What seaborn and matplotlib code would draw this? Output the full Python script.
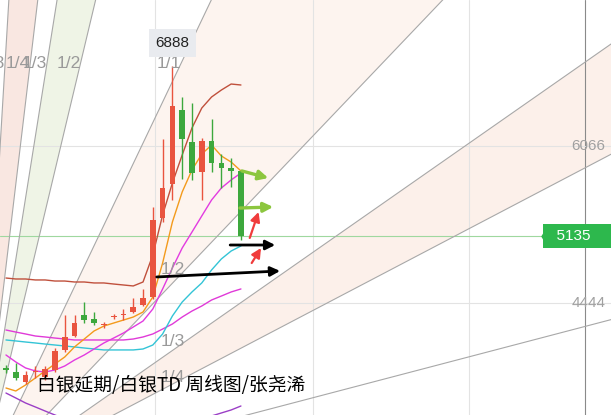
import numpy as np
import pandas as pd
import matplotlib
matplotlib.use("Agg")
import matplotlib.pyplot as plt
import seaborn as sns

# --- velas semanales (precio) ---
opens  = [3773, 3731, 3628, 3731, 3680, 3752, 3959, 4103, 4320, 4279, 4217, 4299, 4320,
          4351, 4423, 4506, 5322, 5673, 6438, 6107, 5797, 6117, 5890, 5839, 5808]
closes = [3752, 3669, 3700, 3742, 3762, 3948, 4093, 4237, 4268, 4237, 4227, 4310, 4330,
          4403, 4496, 5301, 5632, 6479, 6138, 5787, 6117, 5890, 5839, 5808, 5135]
highs  = [3804, 3824, 3742, 3793, 3793, 3979, 4320, 4320, 4454, 4351, 4248, 4330, 4382,
          4496, 4589, 5436, 6138, 6888, 6572, 6510, 6148, 6345, 5983, 5942, 5808]
lows   = [3721, 3649, 3607, 3669, 3649, 3731, 3938, 4093, 4237, 4217, 4186, 4279, 4268,
          4341, 4413, 4485, 5281, 5508, 5725, 5715, 5508, 5797, 5632, 5642, 5095]

# --- medias moviles ---
ma_naranja = [3566, 3535, 3597, 3669, 3742, 3814, 3886, 3990, 4072, 4155, 4206, 4237, 4268,
              4299, 4351, 4506, 4857, 5281, 5591, 5818, 5983, 6076, 5963, 5900, 5808]
ma_rojo    = [4702, 4692, 4692, 4682, 4682, 4671, 4671, 4661, 4661, 4651, 4651, 4640, 4630,
              4620, 4661, 4940, 5353, 5684, 5973, 6252, 6458, 6572, 6644, 6706, 6696]
ma_magenta = [3907, 3835, 3773, 3742, 3731, 3752, 3793, 3855, 3907, 3969, 4031, 4082, 4134,
              4196, 4258, 4382, 4589, 4806, 5012, 5177, 5343, 5508, 5632, 5715, 5787]
ma_magenta2 = [4165, 4144, 4124, 4103, 4093, 4082, 4072, 4062, 4062, 4062, 4062, 4062, 4062,
               4072, 4093, 4124, 4175, 4227, 4299, 4361, 4413, 4475, 4516, 4558, 4589]
ma_cian    = [4062, 4052, 4041, 4031, 4020, 4010, 4000, 3990, 3979, 3969, 3959, 3959, 3959,
              3959, 3969, 4010, 4124, 4310, 4454, 4558, 4651, 4785, 4899, 4981, 5033]
ma_morado  = [3514, 3463, 3411, 3370, 3328, 3287, 3246, 3215, 3184, 3163, 3142, 3132, 3122,
              3122, 3122, 3132, 3142, 3163, 3184, 3215, 3246, 3277, 3308, 3339, 3380]

# --- abanico de Gann ---
fan_origen = (-2.66, 2564)
fan_unidad = 212
fan_ratios = [8, 4, 3, 2, 1, 1/2, 1/3, 1/4, 1/8]
fan_etiquetas = ['1/8', '1/4', '1/3', '1/2', '1/1', '1/2', '1/3', '1/4', '1/8']
# bandas rellenas (indice linea superior, indice linea inferior, color)
fan_bandas = [(0, 1, '#f9e7e1'), (2, 3, '#eff4e6'), (4, 5, '#fdf4ef'), (6, 7, '#fcf0ea')]

# --- niveles y flechas ---
niveles_gris = [6066, 4444]
precio_actual = 5135
maximo = 6888
grid_x = [15.22, 31.36, 47.29]
eje_derecho = 59.14
x_etiqueta_precio = 55.4
flechas = [  # (x0, y0, x1, y1, color, grosor)
    (24.1, 5808, 26.8, 5735, '#8cc63f', 2.4),
    (23.9, 5425, 27.3, 5436, '#8cc63f', 2.4),
    (24.9, 5116, 25.8, 5384, '#f03c3c', 1.6),
    (25.1, 4857, 26.05, 5012, '#f03c3c', 1.6),
    (22.9, 5043, 27.5, 5043, '#000000', 2.0),
    (15.4, 4713, 28.0, 4775, '#000000', 2.0),
]
titulo = '白银延期/白银TD 周线图/张尧浠'

sns.set_style('white')
plt.rcParams['font.family'] = ['Noto Sans CJK SC', 'DejaVu Sans']
num_font = ['Liberation Sans', 'DejaVu Sans']

fig = plt.figure(figsize=(6.11, 4.15), dpi=100)
ax = fig.add_axes([0, 0, 1, 1])
xmin, xmax = -0.61, 61.8
ymin, ymax = 3287, 7574

# abanico
ox, oy = fan_origen
xs = np.linspace(ox, xmax + 1, 200)
lineas = [oy + fan_unidad * r * (xs - ox) for r in fan_ratios]
for a, b, c in fan_bandas:
    ax.fill_between(xs, lineas[a], lineas[b], color=c, lw=0, zorder=0)
for r, ys in zip(fan_ratios, lineas):
    ax.plot(xs, ys, color='#a8a8a8', lw=0.8, zorder=1)

y_etq = 6923
for r, etq in zip(fan_ratios, fan_etiquetas):
    if r >= 1:
        xe = ox + (y_etq - oy) / (fan_unidad * r)
        ye = y_etq
    else:
        xe = 18.3
        ye = oy + fan_unidad * r * (xe - ox)
    if ye < ymin + 60:
        continue  # fuera de la vista
    ax.text(xe, ye, etq, ha='right', va='center', fontsize=12.5, color='#9a9a9a',
            family=num_font, zorder=5)

# rejilla
for gx in grid_x:
    ax.axvline(gx, color='#e3e3e3', lw=0.8, zorder=0.5)
ax.axvline(eje_derecho, color='#8a8a8a', lw=0.8, zorder=0.5)
for nv in niveles_gris:
    ax.axhline(nv, color='#e3e3e3', lw=0.8, zorder=0.5)
    ax.text(61.2, nv, str(nv), ha='right', va='center', fontsize=11, color='#a0a0a0',
            family=num_font, zorder=5)
ax.axhline(precio_actual, color='#9fd89f', lw=0.8, zorder=0.6)

# medias moviles
idx = np.arange(len(closes))
df = pd.DataFrame({'i': idx, 'naranja': ma_naranja, 'rojo': ma_rojo, 'magenta': ma_magenta,
                   'magenta2': ma_magenta2, 'cian': ma_cian, 'morado': ma_morado})
colores_ma = {'morado': '#9b3fc6', 'magenta2': '#e03ad8', 'cian': '#33c4d6',
              'magenta': '#e23be0', 'rojo': '#c0503c', 'naranja': '#f39a1c'}
for col, c in colores_ma.items():
    sns.lineplot(data=df, x='i', y=col, color=c, lw=1.0, ax=ax, zorder=2)

# velas (rojo sube, verde baja)
o = np.array(opens); c = np.array(closes)
colores = np.where(c >= o, '#e9543f', '#3da83d')
ax.vlines(idx, lows, highs, colors=colores, lw=1.0, zorder=3)
alto = np.maximum(np.abs(c - o), 12)
ax.bar(idx, alto, bottom=np.minimum(o, c), width=0.58, color=colores, lw=0, zorder=3)

# flechas
for x0, y0, x1, y1, col, lw in flechas:
    ax.annotate('', xy=(x1, y1), xytext=(x0, y0),
                arrowprops=dict(arrowstyle='-|>', color=col, lw=lw, mutation_scale=14,
                                shrinkA=0, shrinkB=0), zorder=4)

# etiquetas de precio
ax.text(17, 7130, str(maximo), ha='center', va='center', fontsize=11, color='#222222',
        family=num_font,
        bbox=dict(boxstyle='square,pad=0.45', fc='#e9ebef', ec='none'), zorder=5)
verde_tag = '#2db84d'
ax.text(x_etiqueta_precio, precio_actual, '  ' + str(precio_actual) + '       ', ha='left',
        va='center', fontsize=11, color='white', family=num_font,
        bbox=dict(boxstyle='square,pad=0.32', fc=verde_tag, ec='none'), zorder=5)
ax.plot([x_etiqueta_precio - 0.1], [precio_actual], marker=[(-0.6, 0), (0, 1), (0, -1)],
        markersize=15, color=verde_tag, mew=0, zorder=5)

ax.text(0.06, 0.072, titulo, transform=ax.transAxes, fontsize=13.5, color='black',
        ha='left', va='center', zorder=6)

ax.set_xlim(xmin, xmax)
ax.set_ylim(ymin, ymax)
ax.axis('off')

fig.savefig('out.png', dpi=100)
